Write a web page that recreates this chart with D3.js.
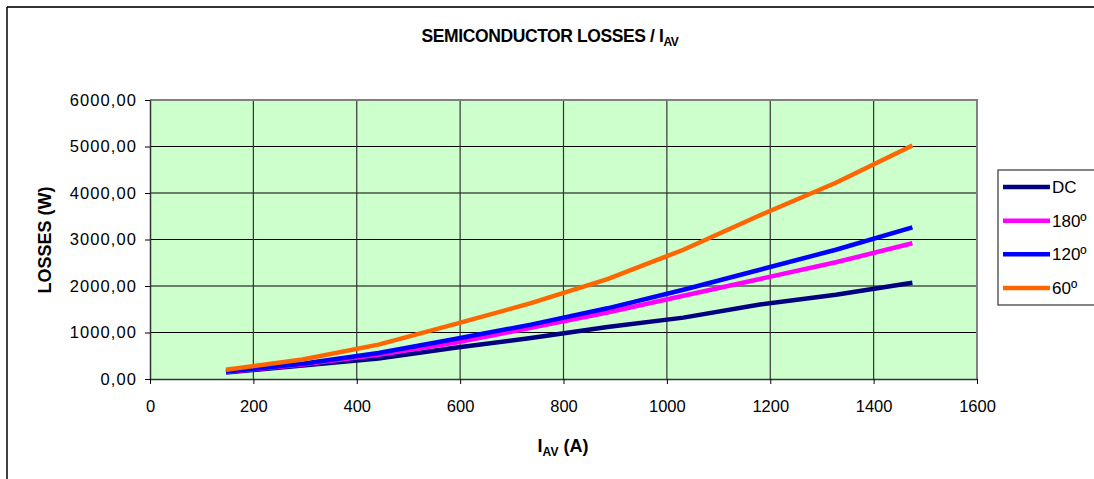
<!DOCTYPE html>
<html>
<head>
<meta charset="utf-8">
<script src="https://cdn.jsdelivr.net/npm/d3@7"></script>
<style>
  body { margin: 0; background: #fff; }
  svg { display: block; font-family: "Liberation Sans", Arial, sans-serif; }
</style>
</head>
<body>
<svg id="chart" width="1094" height="479"></svg>
<script>
// data
const currents = [147, 295, 442, 590, 737, 885, 1032, 1180, 1327, 1475];
const lossDC   = [140, 290, 440, 670, 880, 1120, 1320, 1600, 1810, 2070];
const loss180  = [150, 310, 520, 780, 1100, 1430, 1790, 2150, 2510, 2920];
const loss120  = [160, 330, 560, 860, 1170, 1520, 1920, 2350, 2780, 3260];
const loss60   = [200, 420, 740, 1180, 1630, 2150, 2780, 3520, 4220, 5020];
const seriesNames = ["DC", "180º", "120º", "60º"];
const seriesColors = ["#000080", "#FF00FF", "#0000FF", "#FF6600"];
const xTicks = [0, 200, 400, 600, 800, 1000, 1200, 1400, 1600];
const yTicks = [0, 1000, 2000, 3000, 4000, 5000, 6000];

const series = [lossDC, loss180, loss120, loss60].map((vals, i) => ({
    name: seriesNames[i],
    color: seriesColors[i],
    points: currents.map((c, j) => [c, vals[j]])
}));

const svg = d3.select("#chart");
const plot = { left: 150, right: 977, top: 100, bottom: 379 };

// outer frame (top and left edges visible)
svg.append("line").attr("x1", 7).attr("x2", 1094).attr("y1", 7).attr("y2", 7)
    .attr("stroke", "#333").attr("stroke-width", 2);
svg.append("line").attr("x1", 7).attr("x2", 7).attr("y1", 7).attr("y2", 479)
    .attr("stroke", "#000").attr("stroke-width", 1.5);

const x = d3.scaleLinear().domain([0, 1600]).range([plot.left, plot.right]);
const y = d3.scaleLinear().domain([0, 6000]).range([plot.bottom, plot.top]);

// plot background
svg.append("rect")
    .attr("x", plot.left).attr("y", plot.top)
    .attr("width", plot.right - plot.left).attr("height", plot.bottom - plot.top)
    .attr("fill", "#CCFFCC");

// grid
const grid = svg.append("g");
grid.selectAll(".gy").data(yTicks.slice(1, -1)).join("line")
    .attr("x1", plot.left).attr("x2", plot.right)
    .attr("y1", d => y(d)).attr("y2", d => y(d))
    .attr("stroke", "#000").attr("stroke-width", 1.2);
grid.selectAll(".gx").data(xTicks.slice(1, -1)).join("line")
    .attr("y1", plot.top).attr("y2", plot.bottom)
    .attr("x1", d => x(d)).attr("x2", d => x(d))
    .attr("stroke", "#333").attr("stroke-width", 1.2);

// plot border (grey top/right)
svg.append("path")
    .attr("d", `M${plot.left},${plot.top}H${plot.right}V${plot.bottom}`)
    .attr("fill", "none").attr("stroke", "#808080").attr("stroke-width", 2);

// axes
const fmt = d => d3.format(".2f")(d).replace(".", ",");
const yAxis = svg.append("g")
    .attr("transform", `translate(${plot.left},0)`)
    .call(d3.axisLeft(y).tickValues(yTicks).tickFormat(fmt).tickSize(5).tickSizeOuter(0));
const xAxis = svg.append("g")
    .attr("transform", `translate(0,${plot.bottom})`)
    .call(d3.axisBottom(x).tickValues(xTicks).tickFormat(d3.format("d")).tickSize(5).tickSizeOuter(0));

[yAxis, xAxis].forEach(a => {
    a.select(".domain").attr("stroke", "#333").attr("stroke-width", 1.5);
    a.selectAll(".tick line").attr("stroke", "#000");
    a.selectAll("text").attr("font-size", 16.5).attr("fill", "#000")
        .attr("font-family", "Liberation Sans, Arial, sans-serif");
});
yAxis.selectAll("text").attr("x", -13).attr("letter-spacing", 1.1);
xAxis.selectAll("text").attr("y", 21);

// lines
const line = d3.line().x(d => x(d[0])).y(d => y(d[1]));
svg.append("g").selectAll("path").data(series).join("path")
    .attr("d", d => line(d.points))
    .attr("fill", "none")
    .attr("stroke", d => d.color)
    .attr("stroke-width", 4.5);

// title
const title = svg.append("text")
    .attr("x", 550).attr("y", 42)
    .attr("text-anchor", "middle")
    .attr("font-weight", "bold").attr("font-size", 17.5)
    .attr("letter-spacing", -0.4);
title.append("tspan").text("SEMICONDUCTOR LOSSES / I");
title.append("tspan").attr("dy", 4).attr("font-size", 12).text("AV");

// y axis title
svg.append("text")
    .attr("transform", "translate(51,240) rotate(-90)")
    .attr("text-anchor", "middle")
    .attr("font-weight", "bold").attr("font-size", 18)
    .text("LOSSES (W)");

// x axis title
const xt = svg.append("text")
    .attr("x", 563).attr("y", 452)
    .attr("text-anchor", "middle")
    .attr("font-weight", "bold").attr("font-size", 18);
xt.append("tspan").text("I");
xt.append("tspan").attr("dy", 4).attr("font-size", 12).text("AV");
xt.append("tspan").attr("dy", -4).text(" (A)");

// legend
const legend = svg.append("g");
legend.append("rect")
    .attr("x", 998).attr("y", 170).attr("width", 110).attr("height", 135)
    .attr("fill", "#fff").attr("stroke", "#333").attr("stroke-width", 1.2);
const ly = d3.scalePoint().domain(seriesNames).range([187, 288]);
const items = legend.selectAll("g").data(series).join("g")
    .attr("transform", d => `translate(0,${ly(d.name)})`);
items.append("line")
    .attr("x1", 1003).attr("x2", 1050)
    .attr("stroke", d => d.color).attr("stroke-width", 4.5);
items.append("text")
    .attr("x", 1052).attr("dy", "0.35em")
    .attr("font-size", 17)
    .text(d => d.name);
</script>
</body>
</html>
